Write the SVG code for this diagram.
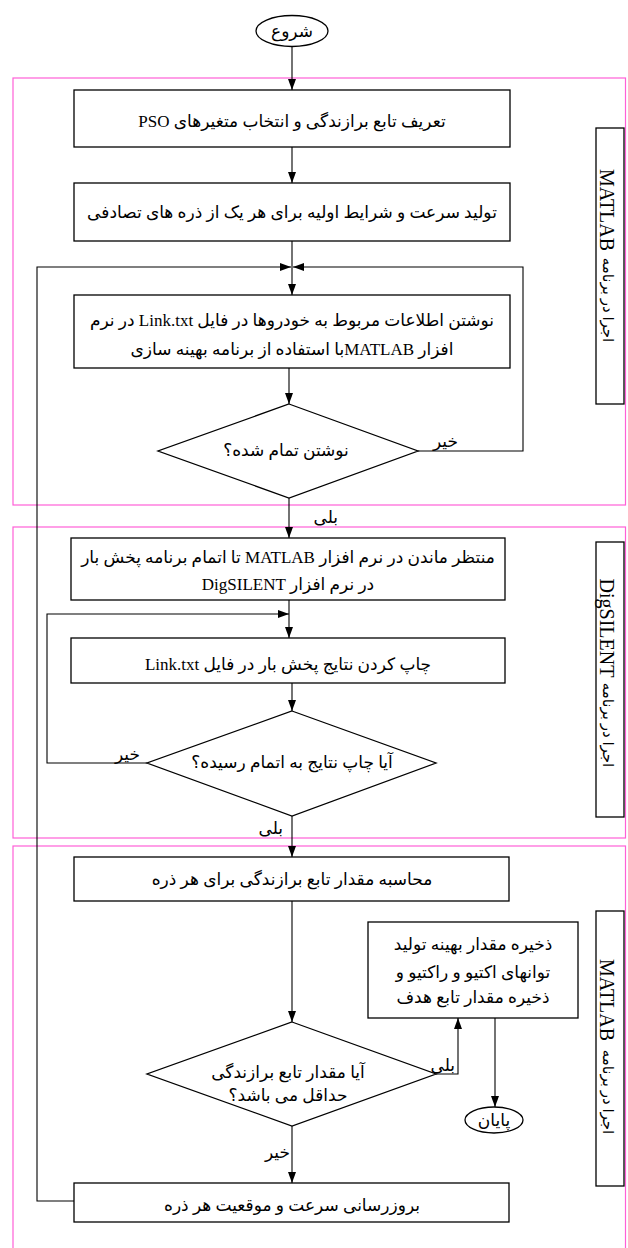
<svg xmlns="http://www.w3.org/2000/svg" width="628" height="1248" viewBox="0 0 628 1248">
<style>
.frame{fill:none;stroke:#ff5fd7;stroke-width:1.2}
.box{fill:#fff;stroke:#000;stroke-width:1.3}
.side{fill:#fff;stroke:#000;stroke-width:1.3}
.conn{fill:none;stroke:#000;stroke-width:1.1}
text{font-family:"Liberation Serif","DejaVu Serif","DejaVu Sans",serif;font-size:17px;fill:#000}
.c{text-anchor:middle;direction:rtl}
.lab{direction:rtl;text-anchor:start}
.sl{font-size:20px;text-anchor:middle}
.sp{font-size:15px;text-anchor:middle;direction:rtl}
</style>
<defs>
<marker id="ah" markerUnits="userSpaceOnUse" markerWidth="12" markerHeight="8" refX="11" refY="4" orient="auto"><path d="M0,0 L11,4 L0,8 z" fill="#000"/></marker>
</defs>

<g id="frames">
<rect class="frame" x="13" y="78" width="612.5" height="427"/>
<rect class="frame" x="13" y="527" width="612.5" height="311"/>
<rect class="frame" x="13" y="846" width="612.5" height="410"/>
</g>

<g id="side1">
<rect class="side" x="596" y="128" width="28" height="276"/>
<text class="sl" transform="translate(600,210) rotate(90)">MATLAB</text>
<text class="sp" transform="translate(603,300) rotate(90)">اجرا در برنامه</text>
</g>
<g id="side2">
<rect class="side" x="596" y="542" width="28" height="275"/>
<text class="sl" transform="translate(600,628) rotate(90)">DigSILENT</text>
<text class="sp" transform="translate(603,725) rotate(90)">اجرا در برنامه</text>
</g>
<g id="side3">
<rect class="side" x="596" y="911" width="28" height="275"/>
<text class="sl" transform="translate(600,1000) rotate(90)">MATLAB</text>
<text class="sp" transform="translate(603,1092) rotate(90)">اجرا در برنامه</text>
</g>

<g id="connectors">
<path class="conn" d="M292,47 V90" marker-end="url(#ah)"/>
<path class="conn" d="M292,147 V183" marker-end="url(#ah)"/>
<path class="conn" d="M292,241 V295" marker-end="url(#ah)"/>
<path class="conn" d="M418,451 H523 V267 H293" marker-end="url(#ah)"/>
<path class="conn" d="M74,1201 H37 V267 H291" marker-end="url(#ah)"/>
<path class="conn" d="M289,368 V404" marker-end="url(#ah)"/>
<path class="conn" d="M289,498 V538" marker-end="url(#ah)"/>
<path class="conn" d="M289,600 V638" marker-end="url(#ah)"/>
<path class="conn" d="M147,763 H47 V614 H289" marker-end="url(#ah)"/>
<path class="conn" d="M292,683 V711" marker-end="url(#ah)"/>
<path class="conn" d="M292,816 V857" marker-end="url(#ah)"/>
<path class="conn" d="M292,901 V1022" marker-end="url(#ah)"/>
<path class="conn" d="M436,1074 H458 V1018" marker-end="url(#ah)"/>
<path class="conn" d="M495,1018 V1107" marker-end="url(#ah)"/>
<path class="conn" d="M292,1126 V1183" marker-end="url(#ah)"/>
<text class="lab" x="458" y="447">خیر</text>
<text class="lab" x="338" y="523">بلی</text>
<text class="lab" x="140" y="760">خیر</text>
<text class="lab" x="283" y="834">بلی</text>
<text class="lab" x="455" y="1071">بلی</text>
<text class="lab" x="290" y="1158">خیر</text>
</g>

<g id="start">
<ellipse class="box" cx="292" cy="31" rx="36" ry="15.5"/>
<text class="c" x="292" y="37">شروع</text>
</g>
<g id="n1">
<rect class="box" x="74" y="90" width="436" height="57"/>
<text class="c" x="292" y="127">تعریف تابع برازندگی و انتخاب متغیرهای PSO</text>
</g>
<g id="n2">
<rect class="box" x="74" y="183" width="436" height="58"/>
<text class="c" x="292" y="218">تولید سرعت و شرایط اولیه برای هر یک از ذره های تصادفی</text>
</g>
<g id="n3">
<rect class="box" x="74" y="295" width="436" height="73"/>
<text class="c" x="292" y="326">نوشتن اطلاعات مربوط به خودروها در فایل Link.txt در نرم</text>
<text class="c" x="292" y="355">افزار MATLABبا استفاده از برنامه بهینه سازی</text>
</g>
<g id="d1">
<polygon class="box" points="289,404 418,451 289,498 158,451"/>
<text class="c" x="286" y="456">نوشتن تمام شده؟</text>
</g>
<g id="n4">
<rect class="box" x="71" y="538" width="434" height="62"/>
<text class="c" x="288" y="563">منتظر ماندن در نرم افزار MATLAB تا اتمام برنامه پخش بار</text>
<text class="c" x="288" y="590">در نرم افزار DigSILENT</text>
</g>
<g id="n5">
<rect class="box" x="71" y="638" width="434" height="45"/>
<text class="c" x="288" y="670">چاپ کردن نتایج پخش بار در فایل Link.txt</text>
</g>
<g id="d2">
<polygon class="box" points="292,711 436,763 292,816 147,763"/>
<text class="c" x="292" y="768">آیا چاپ نتایج به اتمام رسیده؟</text>
</g>
<g id="n6">
<rect class="box" x="74" y="857" width="435" height="44"/>
<text class="c" x="292" y="885">محاسبه مقدار تابع برازندگی برای هر ذره</text>
</g>
<g id="d3">
<polygon class="box" points="292,1022 436,1074 292,1126 147,1074"/>
<text class="c" x="288" y="1078">آیا مقدار تابع برازندگی</text>
<text class="c" x="288" y="1101">حداقل می باشد؟</text>
</g>
<g id="n7">
<rect class="box" x="368" y="922" width="210" height="96"/>
<text class="c" x="473" y="950">ذخیره مقدار بهینه تولید</text>
<text class="c" x="473" y="978">توانهای اکتیو و راکتیو و</text>
<text class="c" x="473" y="1003">ذخیره مقدار تابع هدف</text>
</g>
<g id="end">
<ellipse class="box" cx="494" cy="1120" rx="29" ry="13"/>
<text class="c" x="494" y="1126">پایان</text>
</g>
<g id="n8">
<rect class="box" x="74" y="1183" width="435" height="39"/>
<text class="c" x="292" y="1211">بروزرسانی سرعت و موقعیت هر ذره</text>
</g>
</svg>
